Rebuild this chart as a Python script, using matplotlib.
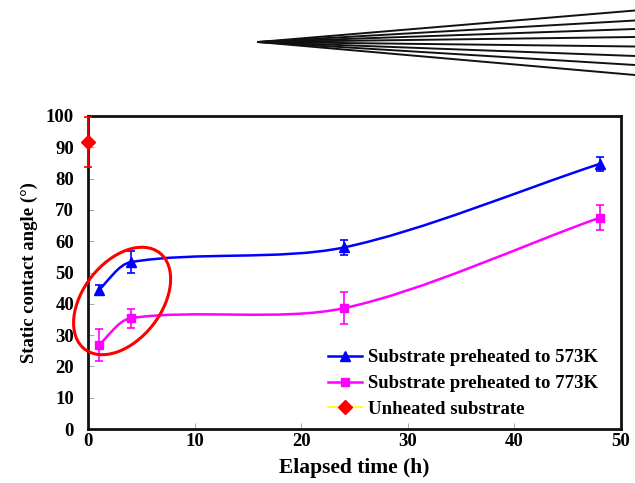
import numpy as np
import matplotlib
matplotlib.use('Agg')
import matplotlib.pyplot as plt
from matplotlib.path import Path
from matplotlib.patches import PathPatch, Ellipse
from matplotlib.lines import Line2D
from matplotlib.transforms import ScaledTranslation

plt.rcParams['font.family'] = ['Liberation Serif', 'DejaVu Serif']
plt.rcParams['font.weight'] = 'bold'

# contact angle vs elapsed time
hours = [1, 4, 24, 48]
angle_573 = [44.4, 53.3, 58.0, 84.7]
err_573 = [1.5, 3.5, 2.5, 2.3]
angle_773 = [26.8, 35.4, 38.6, 67.5]
err_773 = [5.0, 3.0, 5.2, 4.0]
unheated_x = [0]
unheated_y = [91.8]
unheated_err = [8.0]

labels = ['Substrate preheated to 573K',
          'Substrate preheated to 773K',
          'Unheated substrate']
x_ticks = [0, 10, 20, 30, 40, 50]
y_ticks = list(range(0, 101, 10))

# fan of thin lines at the top of the figure (pixel coords)
fan_apex = (258, 42)
fan_ends_y = [10.5, 20.5, 29, 37, 46.5, 56, 65, 75]

W, H = 635, 483
fig = plt.figure(figsize=(W / 100, H / 100), dpi=100)
ax = fig.add_axes([88 / W, 1 - 429 / H, (621 - 88) / W, (429 - 116) / H])
ax.set_xlim(0, 50)
ax.set_ylim(0, 100)


def smooth_path(xs, ys, k=0.3):
    # excel-like smoothed line: bezier through the points, built in display space
    pts = ax.transData.transform(np.column_stack([xs, ys]))
    n = len(pts)
    verts = [pts[0]]
    codes = [Path.MOVETO]
    for i in range(n - 1):
        p0, p1 = pts[i], pts[i + 1]
        prev = pts[i - 1] if i > 0 else p0
        nxt = pts[i + 2] if i + 2 < n else p1
        seg = np.hypot(*(p1 - p0))
        d0 = (p1 - prev) / np.hypot(*(p1 - prev))
        d1 = (nxt - p0) / np.hypot(*(nxt - p0))
        verts += [p0 + d0 * seg * k, p1 - d1 * seg * k, p1]
        codes += [Path.CURVE4] * 3
    return Path(ax.transData.inverted().transform(np.array(verts)), codes)


for ys, c in [(angle_573, 'blue'), (angle_773, 'magenta')]:
    ax.add_patch(PathPatch(smooth_path(hours, ys), facecolor='none',
                           edgecolor=c, lw=1.8, zorder=3))

ax.errorbar(hours, angle_573, yerr=err_573, fmt='^', color='blue', ms=7,
            capsize=3, elinewidth=1.2, capthick=1.2, zorder=4, clip_on=False)
ax.errorbar(hours, angle_773, yerr=err_773, fmt='s', color='magenta', ms=6,
            capsize=3, elinewidth=1.2, capthick=1.2, zorder=4, clip_on=False)
ax.errorbar(unheated_x, unheated_y, yerr=unheated_err, fmt='D', color='red',
            ms=7, capsize=3, elinewidth=1.2, capthick=1.2, zorder=5,
            clip_on=False)

# red circle around the early-time points
ell = Ellipse((0, 0), 1.22, 0.78, angle=52, facecolor='none',
              edgecolor='red', lw=2.2, zorder=6, clip_on=False,
              transform=fig.dpi_scale_trans + ScaledTranslation(3.2, 40.9, ax.transData))
ax.add_artist(ell)

ax.set_xticks(x_ticks)
ax.set_yticks(y_ticks)
ax.tick_params(direction='in', length=4, width=0.6, color='#999999',
               labelsize=13.5)
ax.tick_params(axis='y', pad=10)
ax.tick_params(axis='x', pad=3)
for s in ax.spines.values():
    s.set_linewidth(2)
    s.set_color('#111111')

ax.set_xlabel('Elapsed time (h)', fontsize=15.5, fontweight='bold', labelpad=6)
ax.set_ylabel('Static contact angle (°)', fontsize=13.5, fontweight='bold',
              labelpad=6)

handles = [
    Line2D([], [], color='blue', marker='^', ms=7, lw=1.8),
    Line2D([], [], color='magenta', marker='s', ms=6, lw=1.8),
    Line2D([], [], color='yellow', marker='D', mfc='red', mec='red', ms=7, lw=1.2),
]
fig.legend(handles, labels, loc='upper left',
           bbox_to_anchor=(319 / W, 1 - 340 / H), frameon=False,
           fontsize=13.5, borderpad=0, handlelength=1.8, handletextpad=0.3,
           labelspacing=0.45)

for ye in fan_ends_y:
    fig.add_artist(Line2D([fan_apex[0] / W, 1.0],
                          [1 - fan_apex[1] / H, 1 - ye / H],
                          transform=fig.transFigure, color='#111111', lw=1.4))

fig.savefig('out.png', dpi=100)
